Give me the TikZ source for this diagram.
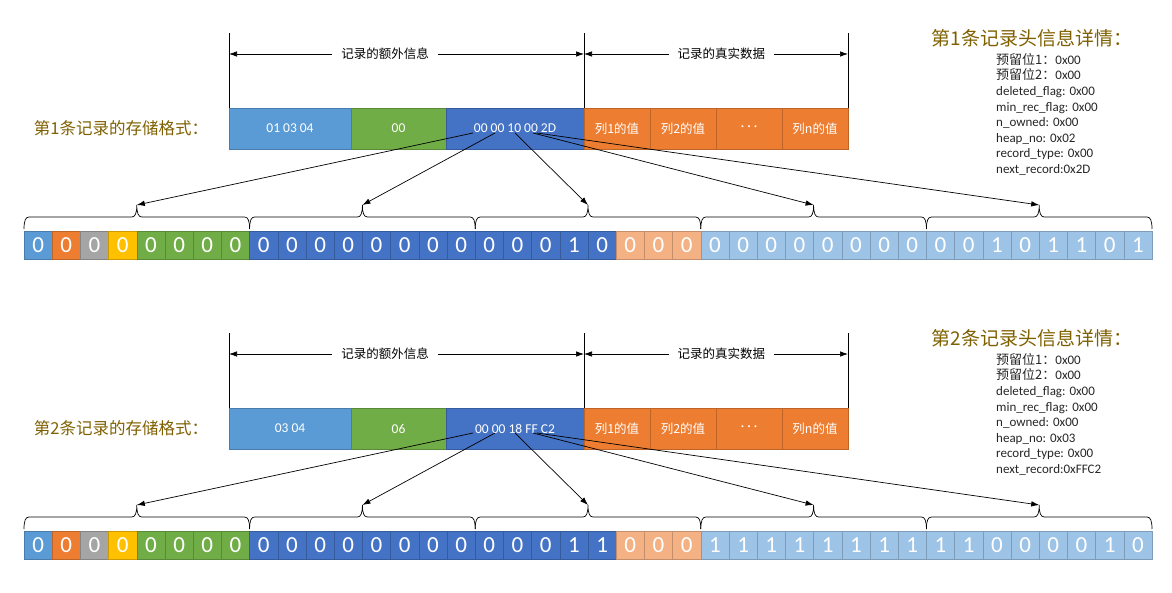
\documentclass[tikz,border=0pt]{standalone}
\usepackage{fontspec}
\setmainfont{Carlito}
\newfontfamily\cjk{Noto Sans CJK SC}
\usetikzlibrary{arrows.meta,positioning}

\definecolor{lblue}{HTML}{5B9BD5}
\definecolor{dblue}{HTML}{4472C4}
\definecolor{gn}{HTML}{70AD47}
\definecolor{org}{HTML}{ED7D31}
\definecolor{gry}{HTML}{A5A5A5}
\definecolor{ylw}{HTML}{FFC000}
\definecolor{lorg}{HTML}{F4B183}
\definecolor{pblue}{HTML}{9DC3E6}
\definecolor{gold}{HTML}{7F6000}

% colour of bit i in the 5 byte record header
\newcommand\bitcolor[1]{\ifcase#1 lblue\or org\or gry\or ylw\or gn\or gn\or gn\or gn\else
  \ifnum#1<21 dblue\else\ifnum#1<24 lorg\else pblue\fi\fi\fi}

\begin{document}
\begin{tikzpicture}[x=1pt,y=-1pt,
    field/.style={fill=#1, draw=#1!80!black, line width=0.5pt, minimum height=41pt,
      inner sep=0pt, outer sep=0pt, text=white, font=\fontsize{13.5}{15}\selectfont},
    bitbox/.style={fill=#1, draw=#1!80!black, line width=0.5pt, minimum width=28.2pt,
      minimum height=28pt, inner sep=0pt, outer sep=0pt, text=white, font=\fontsize{23}{24}\selectfont},
    arr/.style={-{Latex[length=8pt,width=5.5pt]}, line width=0.7pt},
    spanarr/.style={{Latex[length=8pt,width=5.5pt]}-{Latex[length=8pt,width=5.5pt]}, line width=0.7pt},
    spantext/.style={fill=white, inner xsep=9pt, font=\cjk\fontsize{12.5}{14}\selectfont},
    goldtext/.style={text=gold, font=\cjk\fontsize{#1}{#1}\selectfont},
    node distance=0pt]
  \useasboundingbox (0,0) rectangle (1172,593);

  \foreach \rec/\dy/\fa/\fb/\fc/\heap/\nrec/\bits in {
      1/0/{01 03 04}/00/{00 00 10 00 2D}/0x02/0x2D/{0,0,0,0,0,0,0,0,0,0,0,0,0,0,0,0,0,0,0,1,0,0,0,0,0,0,0,0,0,0,0,0,0,0,1,0,1,1,0,1},
      2/300/{03 04}/06/{00 00 18 FF C2}/0x03/0xFFC2/{0,0,0,0,0,0,0,0,0,0,0,0,0,0,0,0,0,0,0,1,1,0,0,0,1,1,1,1,1,1,1,1,1,1,0,0,0,0,1,0}}
  {
  \begin{scope}[shift={(0,\dy)}]
    % Storage format
    \node[goldtext=16.5] (lbl\rec) at (121,128.5) {第\rec{}条记录的存储格式：};
    \node[field=lblue, minimum width=122pt] (fa\rec) at (290,128.5) {\fa};
    \node[field=gn, minimum width=95pt, right=of fa\rec] (fb\rec) {\fb};
    \node[field=dblue, minimum width=138pt, right=of fb\rec] (fc\rec) {\fc};
    \node[field=org, minimum width=66pt, right=of fc\rec, font=\cjk\fontsize{12.5}{14}\selectfont] (ca\rec) {列1的值};
    \node[field=org, minimum width=66pt, right=of ca\rec, font=\cjk\fontsize{12.5}{14}\selectfont] (cb\rec) {列2的值};
    \node[field=org, minimum width=66pt, right=of cb\rec] (cc\rec) {· · ·};
    \node[field=org, minimum width=66pt, right=of cc\rec, font=\cjk\fontsize{12.5}{14}\selectfont] (cd\rec) {列n的值};

    % Extra info / real data spans
    \coordinate (va\rec) at (229,33);
    \coordinate (vb\rec) at (584,33);
    \coordinate (vc\rec) at (848,33);
    \coordinate (ha\rec) at (229,54);
    \coordinate (hb\rec) at (584,54);
    \coordinate (hc\rec) at (848,54);
    \draw[line width=0.7pt] (fa\rec.north west) -- (va\rec);
    \draw[line width=0.7pt] (ca\rec.north west) -- (vb\rec);
    \draw[line width=0.7pt] (cd\rec.north east) -- (vc\rec);
    \draw[spanarr] (ha\rec) -- node[spantext, pos=0.44] (ex\rec) {记录的额外信息} (hb\rec);
    \draw[spanarr] (hb\rec) -- node[spantext, pos=0.52] (rd\rec) {记录的真实数据} (hc\rec);

    % Header bits
    \foreach \b [count=\i from 0] in \bits {
      \edef\bc{\bitcolor{\i}}
      \node[bitbox=\bc] (b\rec-\i) at (38.1+28.2*\i,245) {\b};
    }

    % Braces and arrows
    \foreach \k/\sx in {0/473,1/495,2/515,3/533,4/537} {
      \pgfmathsetmacro\L{24+225.6*\k}
      \pgfmathsetmacro\M{\L+112.8}
      \pgfmathsetmacro\R{\L+225.6}
      \draw[line width=0.7pt] (\L,229) .. controls (\L,221) and (\L+1.5,217) .. (\L+5,217) -- (\M-5,217)
        .. controls (\M-1.5,217) and (\M,213) .. (\M,205) .. controls (\M,213) and (\M+1.5,217) .. (\M+5,217)
        -- (\R-5,217) .. controls (\R-1.5,217) and (\R,221) .. (\R,229);
      \coordinate (t\rec-\k) at (\M,205);
      \coordinate (s\rec-\k) at (\sx,133);
      \draw[arr] (s\rec-\k) -- (t\rec-\k);
    }

    % Header details
    \node[goldtext=19] (ttl\rec) at (1032,38) {第\rec{}条记录头信息详情：};
    \node[anchor=north west, align=left, inner sep=0pt, text=black!85,
      font=\fontsize{13}{15.6}\selectfont] (info\rec) at (996,53)
      {{\cjk 预留位1：}0x00\\{\cjk 预留位2：}0x00\\deleted\_flag: 0x00\\min\_rec\_flag: 0x00\\
       n\_owned: 0x00\\heap\_no: \heap\\record\_type: 0x00\\next\_record:\nrec};
  \end{scope}
  }
\end{tikzpicture}
\end{document}
